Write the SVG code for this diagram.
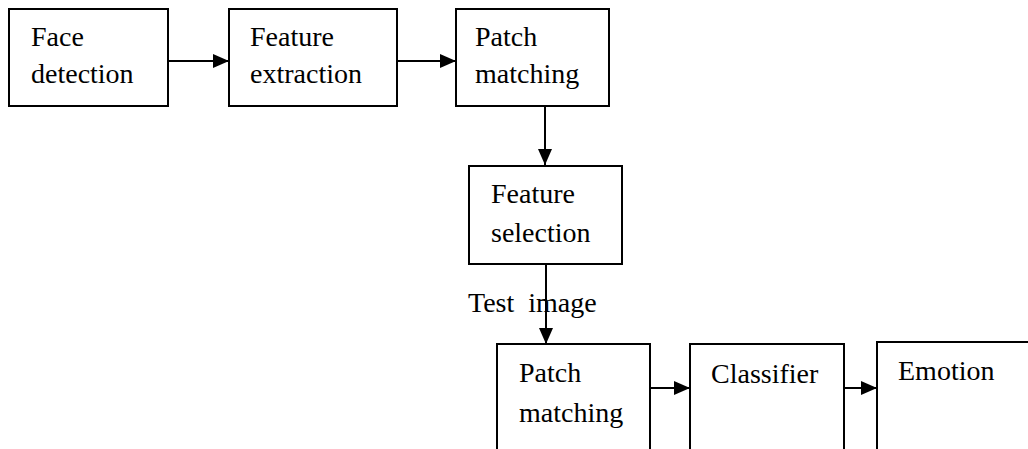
<svg xmlns="http://www.w3.org/2000/svg" width="1028" height="449" viewBox="0 0 1028 449">
<style>
.box{fill:#fff;stroke:#000;stroke-width:2}
.t{font-family:'Liberation Serif','Times New Roman',Times,'DejaVu Serif',serif;font-size:28px;fill:#000}
.c{stroke:#000;stroke-width:2;fill:none}
</style>
<defs>
<marker id="ah" markerUnits="userSpaceOnUse" markerWidth="16" markerHeight="16" viewBox="0 0 16 16" refX="16" refY="8" orient="auto">
<path d="M0,1 L16,8 L0,15 Z" fill="#000"/>
</marker>
</defs>
<rect width="1028" height="449" fill="#fff"/>
<g id="face-detection">
<rect class="box" x="9" y="9" width="159" height="97"/>
<text class="t" x="31" y="46">Face</text>
<text class="t" x="31" y="83">detection</text>
</g>
<g id="feature-extraction">
<rect class="box" x="229" y="9" width="168" height="97"/>
<text class="t" x="250" y="46">Feature</text>
<text class="t" x="250" y="83">extraction</text>
</g>
<g id="patch-matching-1">
<rect class="box" x="456" y="9" width="153" height="97"/>
<text class="t" x="475" y="46">Patch</text>
<text class="t" x="475" y="83">matching</text>
</g>
<g id="feature-selection">
<rect class="box" x="469" y="166" width="153" height="98"/>
<text class="t" x="491" y="203">Feature</text>
<text class="t" x="491" y="242">selection</text>
</g>
<g id="test-image-label">
<text class="t" x="468" y="312" xml:space="preserve">Test  image</text>
</g>
<g id="patch-matching-2">
<rect class="box" x="497" y="344" width="153" height="130"/>
<text class="t" x="519" y="382">Patch</text>
<text class="t" x="519" y="422">matching</text>
</g>
<g id="classifier">
<rect class="box" x="690" y="344" width="154" height="130"/>
<text class="t" x="711" y="383">Classifier</text>
</g>
<g id="emotion">
<rect class="box" x="877" y="342" width="170" height="132"/>
<text class="t" x="898" y="380">Emotion</text>
</g>
<g id="connectors">
<line class="c" x1="168" y1="61" x2="229" y2="61" marker-end="url(#ah)"/>
<line class="c" x1="397" y1="61" x2="456" y2="61" marker-end="url(#ah)"/>
<line class="c" x1="545" y1="106" x2="545" y2="165" marker-end="url(#ah)"/>
<line class="c" x1="546" y1="264" x2="546" y2="344" marker-end="url(#ah)"/>
<line class="c" x1="650" y1="388" x2="690" y2="388" marker-end="url(#ah)"/>
<line class="c" x1="844" y1="388" x2="877" y2="388" marker-end="url(#ah)"/>
</g>
</svg>
